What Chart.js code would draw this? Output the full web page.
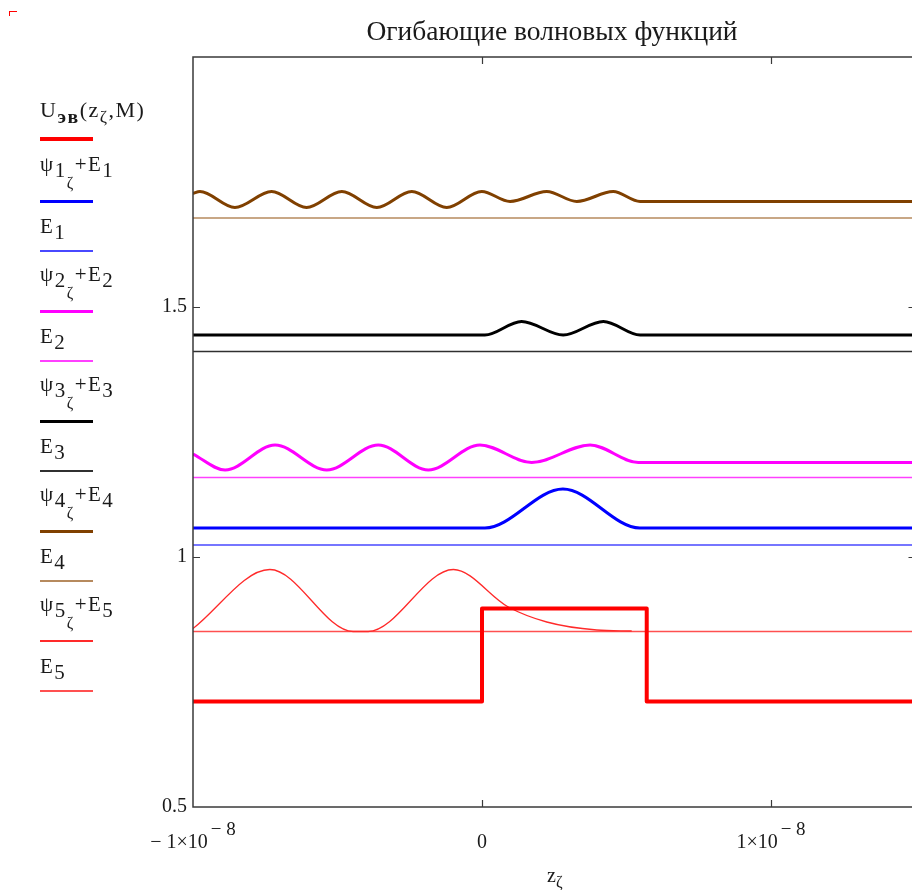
<!DOCTYPE html>
<html>
<head>
<meta charset="utf-8">
<script src="https://cdn.jsdelivr.net/npm/chart.js@4.4.1/dist/chart.umd.min.js"></script>
<style>
  html, body { margin: 0; padding: 0; overflow: hidden; background: #fff; }
  #wrap { position: relative; width: 918px; height: 890px; }
  #graf { position: absolute; left: 0; top: 0; }
  .t { position: absolute; font-family: "Liberation Serif", "Times New Roman", serif; color: #1a1a1a; white-space: nowrap; font-size: 21px; line-height: 20px; }
  .t sub { font-size: 1em; vertical-align: -0.3em; line-height: 0; }
  .t sub sub { font-size: 0.75em; vertical-align: -0.7em; }
  .t .u sub { font-weight: bold; font-size: 0.9em; }
  .t .u .n, .t .u .n sub { font-weight: normal; }
  .t .u .n sub { font-size: 0.8em; }
  .ley { letter-spacing: 1.5px; }
  .ln { position: absolute; left: 40px; width: 53px; }
  #titulo { font-size: 27.5px; line-height: 26px; left: 552px; top: 18px; transform: translateX(-50%); }
  #ejeX { font-size: 20px; left: 547px; top: 865px; }
  #ejeX sub { font-size: 0.8em; }
  #marca { position: absolute; left: 9px; top: 11px; width: 7px; height: 4px; border-top: 1px solid #f00; border-left: 1px solid #f00; }
</style>
</head>
<body>
<div id="wrap">
  <canvas id="graf" width="918" height="890"></canvas>
  <div id="marca"></div>
  <div class="t" id="titulo">Огибающие волновых функций</div>
  <div class="t" id="ejeX">z<sub>ζ</sub></div>
  <div id="leyenda"></div>
</div>
<script>
// z en nm (el eje va en metros)
const NM = 1e-9;
const xTicks = [-1e-8, 0, 1e-8];
const xTickLabels = [['− 1×10', '− 8'], ['0', ''], ['1×10', '− 8']];
const yTicks = [0.5, 1, 1.5];
const yTickLabels = ['0.5', '1', '1.5'];

const zFull = [-10, 15];

// potencial U_эв
const zU = [-10, 0, 0, 5.7, 5.7, 15];
const U = [0.711, 0.711, 0.897, 0.897, 0.711, 0.711];

// niveles de energia E1..E5
const E = [1.024, 1.159, 1.411, 1.678, 0.851];

// psi1 + E1
const zPsi1 = [-10, 0.1, 2.8, 5.46, 15];
const psi1 = [1.058, 1.058, 1.136, 1.058, 1.058];

// psi2 + E2
const zPsi2 = [-10, -8.89, -7.16, -5.37, -3.59, -1.86, -0.07, 1.72, 3.74, 5.41, 15];
const psi2 = [1.206, 1.174, 1.224, 1.174, 1.224, 1.174, 1.224, 1.189, 1.224, 1.189, 1.189];

// psi3 + E3
const zPsi3 = [-10, 0.1, 1.37, 2.81, 4.2, 5.47, 15];
const psi3 = [1.444, 1.444, 1.471, 1.444, 1.471, 1.444, 1.444];

// psi4 + E4
const zPsi4 = [-10, -9.76, -8.55, -7.28, -6.07, -4.85, -3.64, -2.43, -1.22, -0.01, 0.97, 2.24, 3.28, 4.54, 5.47, 15];
const psi4 = [1.727, 1.731, 1.699, 1.731, 1.699, 1.731, 1.699, 1.731, 1.699, 1.731, 1.711, 1.731, 1.711, 1.731, 1.711, 1.711];

// psi5 + E5 (se corta dentro del pozo)
const zPsi5 = [-10, -7.34, -4.46, -3.94, -0.99, 0.91, 2.24, 3.97, 5.18];
const psi5 = [0.857, 0.975, 0.851, 0.851, 0.975, 0.900, 0.870, 0.854, 0.852];

const series = [
  { z: zU, v: U, color: '#ff0000', width: 4, recta: true, label: '<span class="u">U<sub>эв</sub><span class="n">(z<sub>ζ</sub>,M)</span></span>' },
  { z: zPsi1, v: psi1, color: '#0000ff', width: 3, label: 'ψ<sub>1<sub>ζ</sub></sub>+E<sub>1</sub>' },
  { z: zFull, v: [E[0], E[0]], color: '#4848ff', width: 1.3, label: 'E<sub>1</sub>' },
  { z: zPsi2, v: psi2, color: '#ff00ff', width: 3, label: 'ψ<sub>2<sub>ζ</sub></sub>+E<sub>2</sub>' },
  { z: zFull, v: [E[1], E[1]], color: '#ff40ff', width: 1.3, label: 'E<sub>2</sub>' },
  { z: zPsi3, v: psi3, color: '#000000', width: 3, label: 'ψ<sub>3<sub>ζ</sub></sub>+E<sub>3</sub>' },
  { z: zFull, v: [E[2], E[2]], color: '#303030', width: 1.3, label: 'E<sub>3</sub>' },
  { z: zPsi4, v: psi4, color: '#804000', width: 3, label: 'ψ<sub>4<sub>ζ</sub></sub>+E<sub>4</sub>' },
  { z: zFull, v: [E[3], E[3]], color: '#b68a5e', width: 1.3, label: 'E<sub>4</sub>' },
  { z: zPsi5, v: psi5, color: '#ff2a2a', width: 1.3, label: 'ψ<sub>5<sub>ζ</sub></sub>+E<sub>5</sub>' },
  { z: zFull, v: [E[4], E[4]], color: '#ff5050', width: 1.3, label: 'E<sub>5</sub>' }
];

const datasets = series.map(s => ({
  data: s.z.map((z, i) => ({ x: z * NM, y: s.v[i] })),
  showLine: true,
  borderColor: s.color,
  borderWidth: s.width,
  pointRadius: 0,
  borderJoinStyle: 'round',
  cubicInterpolationMode: s.recta ? 'default' : 'monotone',
  tension: 0
}));

// leyenda a la izquierda, estilo Mathcad
const leyenda = document.getElementById('leyenda');
let lineaY = 139;
series.forEach((s, i) => {
  const esPsi = s.label.startsWith('ψ');
  if (i === 1) lineaY += 62;
  else if (i > 1) lineaY += esPsi ? 60 : 50;
  const txt = document.createElement('div');
  txt.className = 't ley';
  txt.style.left = '40px';
  txt.innerHTML = s.label;
  if (i === 0) { txt.style.fontSize = '22px'; txt.style.top = (lineaY - 39) + 'px'; }
  else txt.style.top = (lineaY - (esPsi ? 47 : 35)) + 'px';
  leyenda.appendChild(txt);
  const ln = document.createElement('div');
  ln.className = 'ln';
  ln.style.top = (lineaY - s.width / 2) + 'px';
  ln.style.height = s.width + 'px';
  ln.style.background = s.color;
  leyenda.appendChild(ln);
});

const marco = {
  id: 'marco',
  afterDatasetsDraw(chart) {
    const { ctx, chartArea: a, scales: { x, y } } = chart;
    ctx.save();
    ctx.strokeStyle = '#3a3a3a';
    ctx.lineWidth = 1.5;
    ctx.strokeRect(a.left, a.top, a.right - a.left, a.bottom - a.top);
    ctx.lineWidth = 1.2;
    ctx.beginPath();
    xTicks.forEach(v => {
      const px = Math.round(x.getPixelForValue(v)) + 0.5;
      if (px <= a.left + 2) return;
      ctx.moveTo(px, a.bottom); ctx.lineTo(px, a.bottom - 7);
      ctx.moveTo(px, a.top); ctx.lineTo(px, a.top + 7);
    });
    yTicks.forEach(v => {
      const py = Math.round(y.getPixelForValue(v)) + 0.5;
      if (py >= a.bottom - 2) return;
      ctx.moveTo(a.left, py); ctx.lineTo(a.left + 7, py);
      ctx.moveTo(a.right, py); ctx.lineTo(a.right - 7, py);
    });
    ctx.stroke();

    // etiquetas del eje x con exponente
    ctx.fillStyle = '#1a1a1a';
    ctx.textBaseline = 'alphabetic';
    xTicks.forEach((v, i) => {
      const [base, exp] = xTickLabels[i];
      const px = x.getPixelForValue(v);
      ctx.font = '20px "Liberation Serif", serif';
      const wb = ctx.measureText(base).width;
      ctx.font = '19px "Liberation Serif", serif';
      const we = exp ? ctx.measureText(exp).width + 3 : 0;
      const x0 = px - (wb + we) / 2;
      ctx.font = '20px "Liberation Serif", serif';
      ctx.fillText(base, x0, a.bottom + 41);
      if (exp) {
        ctx.font = '19px "Liberation Serif", serif';
        ctx.fillText(exp, x0 + wb + 3, a.bottom + 28);
      }
    });
    ctx.restore();
  }
};

const ctx = document.getElementById('graf').getContext('2d');
new Chart(ctx, {
  type: 'scatter',
  data: { datasets: datasets },
  options: {
    responsive: false,
    animation: false,
    layout: { padding: { top: 57, right: 2.5, left: 0, bottom: 0 } },
    plugins: {
      legend: { display: false },
      tooltip: { enabled: false },
      title: { display: false }
    },
    scales: {
      x: {
        type: 'linear',
        min: -1e-8,
        max: 1.5e-8,
        afterBuildTicks: s => { s.ticks = xTicks.map(v => ({ value: v })); },
        afterFit: s => { s.height = 83; },
        ticks: { display: false },
        grid: { display: false },
        border: { display: false }
      },
      y: {
        min: 0.5,
        max: 2.0,
        afterBuildTicks: s => { s.ticks = yTicks.map(v => ({ value: v })); },
        afterFit: s => { s.width = 193; },
        ticks: {
          color: '#1a1a1a',
          padding: 6,
          font: { family: '"Liberation Serif", serif', size: 20 },
          callback: (v, i) => yTickLabels[i]
        },
        grid: { display: false, drawTicks: false, tickLength: 0 },
        border: { display: false }
      }
    }
  },
  plugins: [marco]
});
</script>
</body>
</html>
